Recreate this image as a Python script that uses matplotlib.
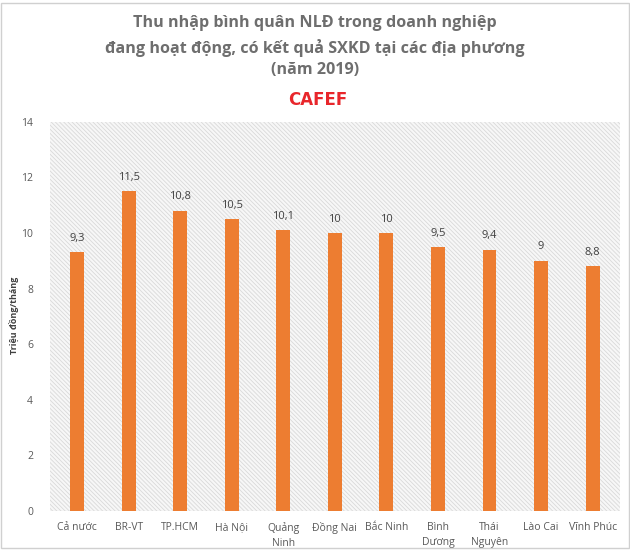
import matplotlib.pyplot as plt
import matplotlib.patches as mpatches
import numpy as np

plt.rcParams['font.family'] = ['Open Sans', 'DejaVu Sans']
plt.rcParams['hatch.linewidth'] = 0.6
plt.rcParams['hatch.color'] = '#d9d9d9'

regions = ['Cả nước', 'BR-VT', 'TP.HCM', 'Hà Nội', 'Quảng\nNinh', 'Đồng Nai',
           'Bắc Ninh', 'Bình\nDương', 'Thái\nNguyên', 'Lào Cai', 'Vĩnh Phúc']
incomes = [9.3, 11.5, 10.8, 10.5, 10.1, 10, 10, 9.5, 9.4, 9, 8.8]
yticks = [0, 2, 4, 6, 8, 10, 12, 14]

fig = plt.figure(figsize=(6.3, 5.54), dpi=100)
ax = fig.add_axes([0.079, 0.078, 0.905, 0.702])

# hatched background of the plot area
bg = mpatches.Rectangle((0, 0), 1, 1, transform=ax.transAxes, facecolor='#f7f7f7',
                        edgecolor='#d9d9d9', hatch='\\\\\\\\\\\\\\\\', linewidth=0, zorder=0)
ax.add_patch(bg)

x = np.arange(len(regions))
ax.bar(x, incomes, width=0.27, color='#ed7d31', zorder=2)
for xi, v in zip(x, incomes):
    label = ('%g' % v).replace('.', ',')
    ax.text(xi, v + 0.3, label, ha='center', va='bottom', fontsize=8, color='#404040')

ax.set_xlim(-0.53, 10.53)
ax.set_ylim(0, 14)
ax.set_yticks(yticks)
ax.set_xticks(x)
ax.set_xticklabels(regions, fontsize=7.5, color='#595959', linespacing=1.5)
ax.tick_params(axis='y', labelsize=7.5, labelcolor='#595959', length=0, pad=12)
ax.tick_params(axis='x', length=0, pad=8)
for s in ax.spines.values():
    s.set_visible(False)
ax.axhline(0, color='#d9d9d9', lw=0.8, zorder=1)

fig.text(0.024, 0.43, 'Triệu đồng/tháng', rotation=90, ha='center', va='center',
         fontsize=6.5, fontweight='bold', color='#404040')

title_color = '#6e6e6e'
fig.text(0.5, 0.958, 'Thu nhập bình quân NLĐ trong doanh nghiệp', ha='center', va='center',
         fontsize=11.6, fontweight='bold', color=title_color)
fig.text(0.5, 0.913, 'đang hoạt động, có kết quả SXKD tại các địa phương', ha='center', va='center',
         fontsize=11.6, fontweight='bold', color=title_color)
fig.text(0.5, 0.873, '(năm 2019)', ha='center', va='center',
         fontsize=11.6, fontweight='bold', color=title_color)
fig.text(0.505, 0.820, 'CAFEF', ha='center', va='center', fontsize=12, fontweight='bold',
         color='#e8262b', family='DejaVu Sans')

# thin frame around the picture
fig.patches.append(mpatches.Rectangle((0.002, 0.01), 0.996, 0.985, transform=fig.transFigure,
                                      fill=False, edgecolor='#d0d0d0', lw=1))

fig.savefig('out.png', dpi=100)
